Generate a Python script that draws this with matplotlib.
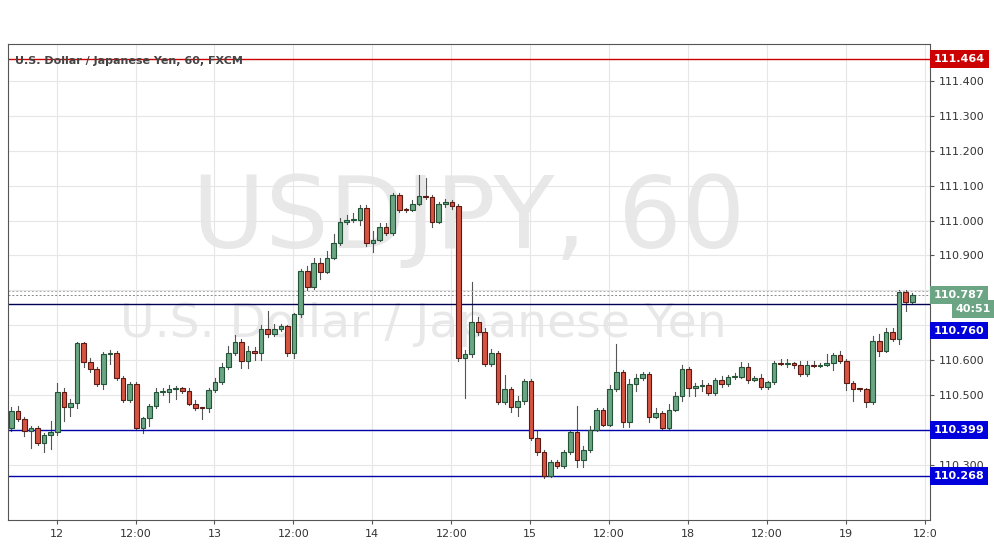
import matplotlib.pyplot as plt
from matplotlib.patches import Rectangle

# hourly USD/JPY candles, opens follow previous close
first_open = 110.406
closes = [110.455, 110.432, 110.397, 110.406, 110.363, 110.386, 110.395, 110.509, 110.466, 110.478,
          110.650, 110.595, 110.575, 110.532, 110.618, 110.620, 110.549, 110.486, 110.532, 110.406,
          110.435, 110.469, 110.509, 110.510, 110.518, 110.521, 110.512, 110.475, 110.463, 110.462,
          110.515, 110.538, 110.581, 110.621, 110.652, 110.598, 110.627, 110.621, 110.690, 110.675,
          110.690, 110.698, 110.621, 110.733, 110.856, 110.810, 110.879, 110.853, 110.893, 110.936,
          110.996, 111.002, 111.003, 111.036, 110.936, 110.945, 110.982, 110.965, 111.074, 111.031,
          111.030, 111.048, 111.071, 111.068, 110.996, 111.048, 111.053, 111.042, 110.607, 110.618,
          110.710, 110.681, 110.589, 110.621, 110.480, 110.518, 110.466, 110.483, 110.541, 110.377,
          110.337, 110.268, 110.309, 110.297, 110.337, 110.395, 110.314, 110.343, 110.400, 110.458,
          110.415, 110.518, 110.566, 110.423, 110.532, 110.549, 110.561, 110.438, 110.449, 110.406,
          110.458, 110.498, 110.575, 110.521, 110.526, 110.529, 110.506, 110.544, 110.532, 110.552,
          110.553, 110.581, 110.544, 110.549, 110.523, 110.538, 110.592, 110.589, 110.592, 110.587,
          110.561, 110.587, 110.584, 110.587, 110.592, 110.615, 110.598, 110.535, 110.518, 110.517,
          110.480, 110.655, 110.627, 110.681, 110.661, 110.796, 110.767, 110.787]
# wick lengths above / below the body, in thousandths
wick_up = [10, 15, 5, 5, 5, 5, 30, 25, 10, 10, 3, 3, 10, 5, 5, 10, 5, 5, 5, 5,
           3, 5, 10, 10, 12, 5, 3, 8, 10, 3, 5, 10, 10, 20, 20, 10, 15, 12, 10, 50,
           15, 5, 3, 3, 5, 15, 15, 15, 20, 25, 10, 15, 20, 10, 10, 25, 12, 10, 5, 5,
           5, 10, 60, 50, 5, 5, 10, 5, 5, 10, 115, 15, 10, 10, 5, 40, 5, 15, 5, 5,
           20, 5, 5, 5, 5, 5, 75, 10, 10, 5, 5, 10, 80, 5, 15, 10, 5, 5, 15, 5,
           15, 10, 10, 5, 10, 15, 5, 5, 10, 5, 10, 15, 10, 5, 10, 3, 5, 12, 10, 3,
           10, 10, 10, 5, 25, 5, 10, 5, 5, 3, 3, 15, 20, 10, 10, 5, 5, 5]
wick_dn = [10, 5, 15, 50, 5, 25, 40, 10, 40, 25, 15, 15, 10, 5, 15, 30, 5, 5, 5, 3,
           15, 25, 5, 10, 30, 30, 5, 3, 5, 30, 10, 5, 5, 5, 5, 20, 20, 20, 20, 10,
           5, 5, 10, 15, 10, 10, 5, 20, 3, 3, 5, 5, 5, 15, 10, 25, 3, 5, 5, 5,
           5, 3, 3, 5, 15, 3, 10, 10, 10, 115, 10, 10, 5, 5, 5, 5, 15, 25, 10, 5,
           10, 5, 3, 5, 5, 5, 20, 20, 5, 3, 5, 3, 5, 15, 15, 20, 5, 15, 5, 3,
           5, 5, 15, 25, 25, 15, 5, 5, 10, 5, 5, 3, 8, 5, 5, 5, 5, 3, 8, 10,
           5, 5, 5, 5, 5, 20, 5, 20, 35, 5, 15, 5, 15, 5, 5, 15, 25, 3]

price_ticks = [110.3 + 0.1 * k for k in range(12)]
hidden_ticks = ['110.400', '110.700', '110.800']  # covered by the price tags
time_labels = ['12', '12:00', '13', '12:00', '14', '12:00', '15', '12:00', '18', '12:00', '19', '12:0']
levels = {'high': 111.464, 'upper': 110.760, 'lower': 110.399, 'bottom': 110.268}
last_price = 110.787

fig = plt.figure(figsize=(9.95, 5.57), dpi=100)
ax = fig.add_axes([8 / 995, 37 / 557, 922 / 995, 476 / 557])

green, green_e = '#6ba583', '#225437'
red, red_e = '#d75442', '#5b1a13'

opens = [first_open] + closes[:-1]
for i, (o, c) in enumerate(zip(opens, closes)):
    up = c >= o
    hi = max(o, c) + wick_up[i] / 1000
    lo = min(o, c) - wick_dn[i] / 1000
    ax.plot([i, i], [lo, hi], color='#555555', lw=0.8, zorder=2)
    h = max(abs(c - o), 0.003)
    ax.add_patch(Rectangle((i - 0.35, min(o, c)), 0.7, h, facecolor=green if up else red,
                           edgecolor=green_e if up else red_e, lw=0.8, zorder=3))

ax.set_xlim(-0.5, 139.7)
ax.set_ylim(110.142, 111.506)

# levels
ax.axhline(levels['high'], color='#cc0000', lw=1)
ax.axhline(levels['upper'], color='#000055', lw=1)
ax.axhline(levels['lower'], color='#0000aa', lw=1)
ax.axhline(levels['bottom'], color='#0000aa', lw=1)
ax.axhline(last_price, color='#888888', lw=0.7, ls=(0, (2, 2)))
ax.axhline(last_price + 0.012, color='#aaaaaa', lw=0.7, ls=(0, (2, 2)))

ax.set_yticks(price_ticks)
labels = ['%.3f' % p for p in price_ticks]
ax.set_yticklabels(['' if l in hidden_ticks else l for l in labels], fontsize=8, color='#333333')
ax.yaxis.tick_right()
ax.set_xticks([6.9 + 12 * k for k in range(len(time_labels))])
ax.set_xticklabels(time_labels, fontsize=8, color='#333333')
ax.tick_params(length=3, color='#555555')
ax.grid(True, color='#e6e6e6', lw=0.8)
ax.set_axisbelow(True)
for s in ax.spines.values():
    s.set_color('#555555')

# price tags on the right
def tag(y, text, color, x=1.004):
    ax.text(x, y, text, transform=ax.get_yaxis_transform(), fontsize=8, fontweight='bold',
            color='white', va='center', ha='left', zorder=10,
            bbox=dict(boxstyle='square,pad=0.35', fc=color, ec='none'))

tag(levels['high'], '111.464', '#cc0000')
tag(last_price, '110.787', '#6ba583')
tag(last_price - 0.04, '40:51', '#6ba583', x=1.028)
tag(levels['upper'] - 0.075, '110.760', '#0000dd')
tag(levels['lower'], '110.399', '#0000dd')
tag(levels['bottom'], '110.268', '#0000dd')

# title and watermark
ax.text(0.008, 0.975, 'U.S. Dollar / Japanese Yen, 60, FXCM', transform=ax.transAxes,
        fontsize=8, color='#444444', va='top', fontweight='bold')
ax.text(0.5, 0.63, 'USDJPY, 60', transform=ax.transAxes, fontsize=72, color='#cccccc',
        alpha=0.45, ha='center', va='center', zorder=0)
ax.text(0.45, 0.41, 'U.S. Dollar / Japanese Yen', transform=ax.transAxes, fontsize=34,
        color='#cccccc', alpha=0.45, ha='center', va='center', zorder=0)

fig.savefig('out.png', dpi=100)
